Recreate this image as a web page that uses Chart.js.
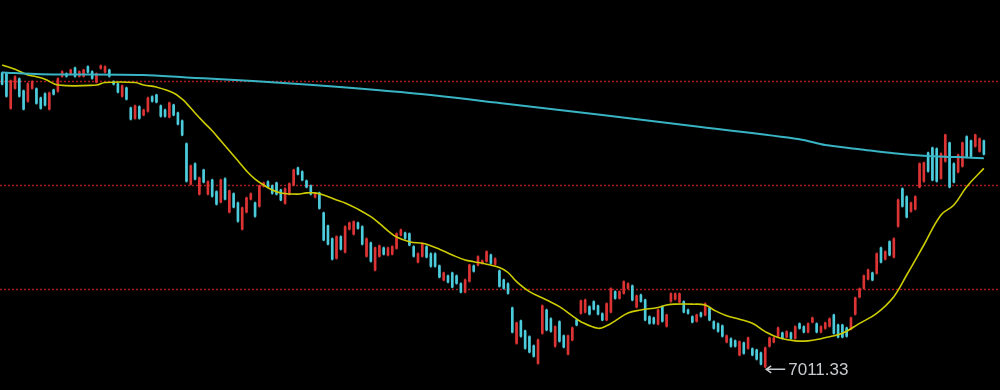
<!DOCTYPE html>
<html>
<head>
<meta charset="utf-8">
<script src="https://cdn.jsdelivr.net/npm/chart.js@4.4.1/dist/chart.umd.min.js"></script>
<style>
  html, body { margin: 0; padding: 0; background: #000; }
  #wrap { position: relative; width: 1000px; height: 390px; }
</style>
</head>
<body>
<div id="wrap"><canvas id="kline"></canvas></div>
<script>
const UP_COLOR = '#dc3434';
const DOWN_COLOR = '#4ccbdb';

const opens = [
  7719,7717,7634,7682,7705,7676,7651,7682,7681,7659,
  7669,7632,7678,7675,7711,7717,7716,7731,7711,7711,
  7734,7722,7697,7730,7721,7726,7698,7693,7663,7683,
  7635,7610,7638,7618,7627,7662,7666,7640,7630,7613,
  7642,7623,7604,7549,7452,7501,7428,7486,7428,7462,
  7434,7409,7465,7385,7429,7407,7344,7385,7416,7407,
  7399,7447,7458,7448,7455,7438,7406,7428,7450,7491,
  7482,7460,7448,7421,7431,7383,7352,7321,7274,7326,
  7289,7344,7332,7359,7350,7279,7311,7246,7279,7299,
  7282,7284,7298,7330,7335,7333,7302,7265,7279,7302,
  7285,7285,7256,7222,7232,7239,7232,7213,7193,7219,
  7256,7258,7262,7267,7282,7260,7244,7222,7213,7155,
  7070,7124,7100,7086,7064,7022,7094,7150,7129,7063,
  7122,7088,7044,7078,7126,7142,7145,7158,7170,7160,
  7141,7126,7145,7194,7178,7190,7202,7208,7157,7186,
  7174,7134,7131,7116,7158,7111,7171,7176,7169,7170,
  7150,7134,7123,7143,7138,7155,7122,7117,7112,7073,
  7081,7076,7042,7071,7058,7057,7054,7047,7014,7063,
  7073,7087,7095,7085,7095,7082,7117,7110,7097,7121,
  7117,7097,7106,7111,7138,7114,7114,7107,7104,7140,
  7181,7202,7224,7239,7238,7299,7272,7314,7277,7351,
  7441,7422,7387,7392,7445,7459,7527,7539,7537,7466,
  7507,7551,7501,7481,7495,7566,7556,7543,7531,7556
];

const closes = [
  7692,7663,7700,7710,7663,7632,7693,7698,7646,7634,
  7642,7671,7668,7705,7722,7711,7726,7711,7722,7726,
  7721,7706,7717,7736,7734,7711,7692,7673,7688,7656,
  7608,7640,7610,7630,7659,7651,7649,7615,7615,7647,
  7618,7596,7570,7459,7496,7464,7467,7457,7458,7423,
  7404,7462,7416,7436,7397,7363,7395,7419,7429,7375,
  7448,7455,7445,7430,7428,7414,7441,7453,7486,7476,
  7462,7445,7428,7429,7394,7318,7308,7272,7326,7296,
  7350,7359,7362,7346,7308,7321,7267,7299,7304,7284,
  7299,7302,7333,7342,7322,7306,7279,7285,7309,7277,
  7255,7255,7229,7239,7217,7205,7214,7193,7222,7258,
  7243,7278,7268,7290,7262,7273,7207,7202,7190,7097,
  7119,7087,7058,7049,7039,7078,7160,7102,7099,7110,
  7075,7061,7088,7107,7114,7172,7174,7140,7152,7140,
  7126,7165,7201,7178,7194,7218,7213,7174,7184,7171,
  7126,7118,7118,7150,7123,7138,7189,7189,7189,7145,
  7142,7121,7138,7135,7165,7126,7106,7099,7087,7088,
  7063,7063,7074,7046,7083,7042,7032,7020,7059,7083,
  7083,7107,7082,7098,7082,7110,7106,7097,7117,7131,
  7097,7110,7119,7129,7094,7085,7085,7087,7131,7179,
  7201,7232,7246,7222,7285,7265,7290,7282,7321,7414,
  7399,7373,7407,7422,7501,7503,7483,7462,7459,7525,
  7570,7445,7457,7522,7551,7517,7519,7570,7561,7524
];

const highs = [
  7721,7719,7702,7712,7707,7678,7695,7700,7683,7661,
  7671,7673,7680,7707,7724,7719,7728,7733,7724,7728,
  7736,7724,7719,7738,7736,7728,7700,7695,7690,7685,
  7637,7642,7640,7632,7661,7664,7668,7642,7632,7649,
  7644,7625,7606,7551,7498,7503,7469,7488,7460,7464,
  7436,7464,7467,7438,7431,7409,7397,7421,7431,7409,
  7450,7457,7460,7450,7457,7440,7443,7455,7488,7493,
  7484,7462,7450,7431,7433,7385,7354,7323,7328,7328,
  7352,7361,7364,7361,7352,7323,7313,7301,7306,7301,
  7301,7304,7335,7344,7337,7335,7304,7287,7311,7304,
  7287,7287,7258,7241,7234,7241,7234,7215,7224,7260,
  7258,7280,7270,7292,7284,7275,7246,7224,7215,7157,
  7121,7126,7102,7088,7066,7080,7162,7152,7131,7112,
  7124,7090,7090,7109,7128,7174,7176,7160,7172,7162,
  7143,7167,7203,7196,7196,7220,7215,7210,7186,7188,
  7176,7136,7133,7152,7160,7140,7191,7191,7191,7172,
  7152,7136,7140,7145,7167,7157,7124,7119,7114,7090,
  7083,7078,7076,7073,7085,7059,7056,7049,7061,7085,
  7085,7109,7097,7100,7097,7112,7119,7112,7119,7133,
  7119,7112,7121,7131,7140,7116,7116,7109,7133,7181,
  7203,7234,7248,7241,7287,7301,7292,7316,7323,7416,
  7443,7424,7409,7424,7503,7505,7529,7541,7539,7527,
  7572,7553,7503,7524,7553,7568,7558,7572,7563,7558
];

const lows = [
  7690,7661,7632,7680,7661,7630,7649,7680,7644,7632,
  7640,7630,7666,7673,7709,7709,7714,7709,7709,7709,
  7719,7704,7695,7728,7719,7709,7690,7671,7661,7654,
  7606,7608,7608,7616,7625,7649,7647,7613,7613,7611,
  7616,7594,7568,7457,7450,7462,7426,7455,7426,7421,
  7402,7407,7414,7383,7395,7361,7342,7383,7414,7373,
  7397,7445,7443,7428,7426,7412,7404,7426,7448,7474,
  7460,7443,7426,7419,7392,7316,7306,7270,7272,7294,
  7287,7342,7330,7344,7306,7277,7265,7244,7277,7282,
  7280,7282,7296,7328,7320,7304,7277,7263,7277,7275,
  7253,7253,7227,7220,7215,7203,7212,7191,7191,7217,
  7241,7256,7260,7265,7260,7258,7205,7200,7188,7095,
  7068,7085,7056,7047,7037,7020,7092,7100,7097,7061,
  7073,7059,7042,7076,7112,7140,7143,7138,7150,7138,
  7124,7124,7143,7176,7176,7188,7200,7172,7155,7169,
  7124,7116,7116,7114,7121,7109,7169,7174,7167,7143,
  7140,7119,7121,7133,7136,7124,7104,7097,7085,7071,
  7061,7061,7040,7044,7056,7040,7030,7018,7011.33,7061,
  7071,7085,7080,7083,7080,7080,7104,7095,7095,7119,
  7095,7095,7104,7109,7092,7083,7083,7085,7102,7138,
  7179,7200,7222,7220,7236,7263,7270,7280,7275,7349,
  7397,7371,7385,7390,7443,7457,7481,7460,7457,7464,
  7505,7443,7455,7479,7493,7515,7517,7541,7529,7522
];

// moving averages as [bar index, value]
const maShort = [
  [0,7738],[3,7728],[6,7714],[8,7710],[10,7704],[13,7690],[22,7690],[24,7696],
  [31,7696],[33,7690],[36,7685],[40,7671],[42,7656],[43,7646],[45,7623],[47,7601],
  [49,7580],[51,7556],[53,7532],[55,7508],[57,7484],[59,7464],[61,7450],[63,7438],
  [65,7431],[69,7428],[71,7431],[73,7431],[75,7426],[78,7414],[80,7407],[83,7392],
  [86,7374],[88,7358],[90,7340],[92,7325],[95,7314],[98,7310],[99,7308],[102,7296],
  [105,7282],[108,7270],[110,7266],[113,7260],[116,7252],[118,7240],[120,7218],[123,7194],
  [127,7174],[130,7158],[133,7136],[135,7122],[139,7106],[141,7112],[143,7124],[146,7143],
  [149,7150],[153,7156],[155,7162],[157,7164],[161,7164],[164,7162],[166,7150],[169,7136],
  [172,7128],[175,7118],[178,7098],[181,7084],[185,7076],[188,7076],[191,7081],[193,7086],
  [196,7094],[200,7118],[204,7142],[208,7182],[211,7234],[215,7306],[219,7378],[222,7402],
  [225,7446],[229,7490]
];

const maLong = [
  [0,7720],[9,7716],[33,7714],[43,7708],[47,7706],[70,7692],[93,7673],[116,7647],
  [140,7618],[163,7589],[186,7560],[192,7546],[200,7536],[208,7526],[215,7520],[223,7517],
  [229,7514]
];

const gridLevels = [7200, 7450, 7700];
const lowMark = { index: 178, label: '7011.33' };

const labels = opens.map((_, i) => String(i));
const barColor = ctx => closes[ctx.dataIndex] >= opens[ctx.dataIndex] ? UP_COLOR : DOWN_COLOR;
const toPoints = arr => arr.map(([i, v]) => ({ x: labels[i], y: v }));

const dottedGrid = {
  id: 'dottedGrid',
  beforeDatasetsDraw(chart) {
    const { ctx, scales } = chart;
    ctx.save();
    ctx.strokeStyle = '#a81c1c';
    ctx.lineWidth = 1.5;
    ctx.setLineDash([2, 2]);
    for (const v of gridLevels) {
      const y = Math.round(scales.y.getPixelForValue(v)) + 0.5;
      ctx.beginPath();
      ctx.moveTo(0, y);
      ctx.lineTo(chart.width, y);
      ctx.stroke();
    }
    ctx.restore();
  }
};

const lowLabel = {
  id: 'lowLabel',
  afterDatasetsDraw(chart) {
    const { ctx, scales } = chart;
    const x = scales.x.getPixelForValue(lowMark.index) + 1;
    const y = scales.y.getPixelForValue(lows[lowMark.index]) + 1.5;
    ctx.save();
    ctx.strokeStyle = '#c8ccd0';
    ctx.lineWidth = 1.5;
    ctx.beginPath();
    ctx.moveTo(x, y);
    ctx.lineTo(x + 19, y);
    ctx.moveTo(x + 5, y - 3.5);
    ctx.lineTo(x, y);
    ctx.lineTo(x + 5, y + 3.5);
    ctx.stroke();
    ctx.fillStyle = '#c8ccd0';
    ctx.font = '17px "Liberation Sans", Arial, sans-serif';
    ctx.textBaseline = 'middle';
    ctx.fillText(lowMark.label, x + 22, y + 1);
    ctx.restore();
  }
};

new Chart(document.getElementById('kline'), {
  type: 'bar',
  data: {
    labels,
    datasets: [
      {
        type: 'line',
        label: 'MA long',
        data: toPoints(maLong),
        borderColor: '#38b4c4',
        borderWidth: 2,
        pointRadius: 0,
        tension: 0.3,
        order: 0
      },
      {
        type: 'line',
        label: 'MA short',
        data: toPoints(maShort),
        borderColor: '#cccc00',
        borderWidth: 1.6,
        pointRadius: 0,
        tension: 0.4,
        order: 0
      },
      {
        label: 'body',
        data: opens.map((o, i) => [o, closes[i]]),
        backgroundColor: barColor,
        borderWidth: 0,
        barThickness: 2,
        grouped: false,
        order: 1
      },
      {
        label: 'wick',
        data: highs.map((h, i) => [lows[i], h]),
        backgroundColor: barColor,
        borderWidth: 0,
        barThickness: 1,
        grouped: false,
        order: 2
      }
    ]
  },
  options: {
    responsive: true,
    maintainAspectRatio: false,
    animation: false,
    layout: { padding: { left: 0, right: 14, top: 0, bottom: 0 } },
    scales: {
      x: { display: false },
      y: { display: false, min: 6958, max: 7894 }
    },
    plugins: {
      legend: { display: false },
      tooltip: { enabled: false }
    }
  },
  plugins: [dottedGrid, lowLabel]
});
</script>
</body>
</html>
